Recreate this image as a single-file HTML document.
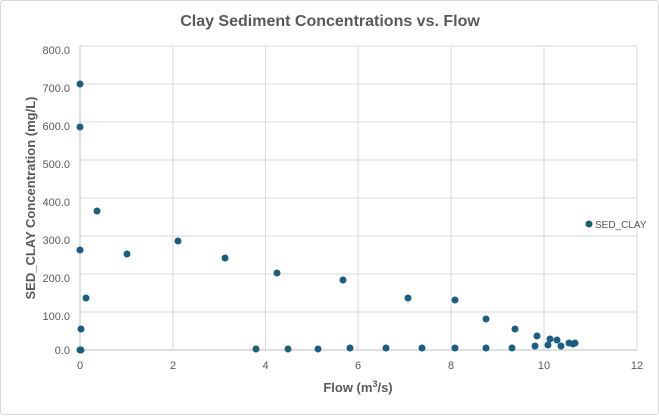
<!DOCTYPE html><html><head><style>body{margin:0;background:#fff}</style></head><body>
<svg width="659" height="415" xmlns="http://www.w3.org/2000/svg" font-family="Liberation Sans, sans-serif">
<rect x="0.5" y="0.5" width="658" height="414" rx="3" fill="#fff" stroke="#d9d9d9"/>
<text x="330" y="26" text-anchor="middle" font-size="16" font-weight="bold" fill="#595959">Clay Sediment Concentrations vs. Flow</text>
<g stroke="#d9d9d9" stroke-width="1">
<line x1="80" y1="46" x2="637" y2="46"/><line x1="80" y1="84" x2="637" y2="84"/><line x1="80" y1="122" x2="637" y2="122"/><line x1="80" y1="160" x2="637" y2="160"/><line x1="80" y1="198" x2="637" y2="198"/><line x1="80" y1="236" x2="637" y2="236"/><line x1="80" y1="274" x2="637" y2="274"/><line x1="80" y1="312" x2="637" y2="312"/>
<line x1="173" y1="46" x2="173" y2="350"/><line x1="265.5" y1="46" x2="265.5" y2="350"/><line x1="358" y1="46" x2="358" y2="350"/><line x1="451" y1="46" x2="451" y2="350"/><line x1="544" y1="46" x2="544" y2="350"/><line x1="637" y1="46" x2="637" y2="350"/>
</g>
<line x1="80" y1="350" x2="637" y2="350" stroke="#bfbfbf"/><line x1="80" y1="46" x2="80" y2="350" stroke="#bfbfbf"/>
<g font-size="11" fill="#595959" text-anchor="end">
<text x="70" y="54">800.0</text><text x="70" y="92">700.0</text><text x="70" y="130">600.0</text><text x="70" y="168">500.0</text><text x="70" y="206">400.0</text><text x="70" y="244">300.0</text><text x="70" y="282">200.0</text><text x="70" y="320">100.0</text><text x="70" y="354">0.0</text>
</g>
<g font-size="11" fill="#595959" text-anchor="middle">
<text x="80" y="369">0</text><text x="173" y="369">2</text><text x="265.5" y="369">4</text><text x="358" y="369">6</text><text x="451" y="369">8</text><text x="544" y="369">10</text><text x="637" y="369">12</text>
</g>
<text x="358" y="392" text-anchor="middle" font-size="13" font-weight="bold" fill="#595959">Flow (m<tspan font-size="9" dy="-5">3</tspan><tspan dy="5">/s)</tspan></text>
<text transform="translate(35,198) rotate(-90)" text-anchor="middle" font-size="13" font-weight="bold" fill="#595959">SED_CLAY Concentration (mg/L)</text>
<g fill="#1a5e80">
<circle cx="80" cy="84" r="3.5"/><circle cx="80" cy="127" r="3.5"/><circle cx="80" cy="250" r="3.5"/><circle cx="81" cy="329" r="3.5"/><circle cx="80" cy="350" r="3.5"/><circle cx="81" cy="350" r="3.5"/>
<circle cx="86" cy="298" r="3.5"/><circle cx="97" cy="211" r="3.5"/><circle cx="127" cy="254" r="3.5"/><circle cx="178" cy="241" r="3.5"/><circle cx="225" cy="258" r="3.5"/><circle cx="256" cy="349" r="3.5"/><circle cx="277" cy="273" r="3.5"/><circle cx="288" cy="349" r="3.5"/><circle cx="318" cy="349" r="3.5"/><circle cx="343" cy="280" r="3.5"/><circle cx="350" cy="348" r="3.5"/><circle cx="386" cy="348" r="3.5"/><circle cx="408" cy="298" r="3.5"/><circle cx="422" cy="348" r="3.5"/><circle cx="455" cy="300" r="3.5"/><circle cx="455" cy="348" r="3.5"/><circle cx="486" cy="319" r="3.5"/><circle cx="486" cy="348" r="3.5"/><circle cx="512" cy="348" r="3.5"/><circle cx="515" cy="329" r="3.5"/><circle cx="535" cy="346" r="3.5"/><circle cx="537" cy="336" r="3.5"/><circle cx="548" cy="345" r="3.5"/><circle cx="550" cy="339" r="3.5"/><circle cx="557" cy="340" r="3.5"/><circle cx="561" cy="346" r="3.5"/><circle cx="569" cy="343" r="3.5"/><circle cx="573" cy="344" r="3.5"/><circle cx="575" cy="343" r="3.5"/>
<circle cx="589" cy="224" r="3.5"/>
</g>
<text x="595" y="228" font-size="10" fill="#595959">SED_CLAY</text>
</svg></body></html>
